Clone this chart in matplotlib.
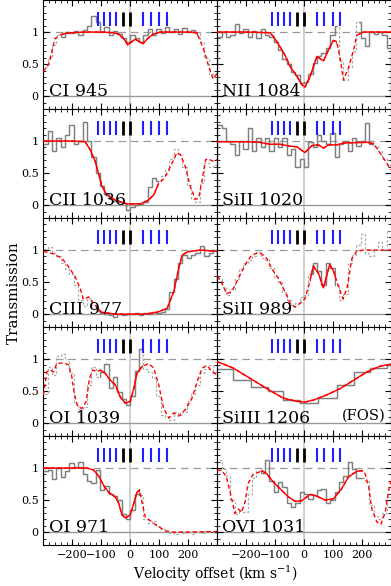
import numpy as np
import matplotlib.pyplot as plt
from matplotlib.patches import Rectangle
from matplotlib.ticker import MultipleLocator, FormatStrFormatter

plt.rcParams['font.family'] = 'serif'
plt.rcParams['font.serif'] = ['DejaVu Serif']
plt.rcParams['mathtext.fontset'] = 'dejavuserif'

# ///////////////////////////////////////////////////////////////// data

BIN_EDGES = np.arange(-300, 301, 15)  # 15 km/s bins for the FUSE spectra

# component positions (km/s)
BLUE_COMPONENTS = [-112, -91, -70, -50, 45, 70, 100, 125]
BLACK_COMPONENTS = [-25, 0]

X_TICKS = [-200, -100, 0, 100, 200]
Y_TICKS = [0, 0.5, 1]

# CI 945
ci945_model_v = [-300, -280, -260, -240, -220, -200, -150, -100, -60, -40, -20, -9, 0, 17, 30, 44, 60, 80, 104, 150, 200, 230, 254, 271, 286, 300]
ci945_model_t = [0.38, 0.52, 0.90, 0.96, 0.98, 0.99, 1.0, 1.0, 0.99, 0.97, 0.88, 0.80, 0.83, 0.89, 0.85, 0.82, 0.90, 0.97, 1.0, 1.0, 1.0, 0.99, 0.72, 0.46, 0.27, 0.36]
ci945_data = [0.45, 0.60, 0.80, 0.95, 0.93, 1.00, 0.98, 1.02, 0.96, 1.03,
              1.10, 1.25, 1.15, 1.00, 1.08, 0.95, 1.02, 0.97, 0.90, 0.85,
              0.95, 0.90, 0.85, 0.95, 1.05, 0.95, 1.05, 0.98, 1.08, 1.00,
              1.05, 0.97, 1.07, 1.00, 1.03, 0.98, 0.85, 0.60, 0.35, 0.30]
ci945_windows = [(-240, 235)]

# NII 1084
nii1084_model_v = [-300, -200, -118, -106, -83, -66, -48, -25, -8, 3, 21, 44, 67, 84, 101, 113, 125, 136, 153, 171, 182, 205, 300]
nii1084_model_t = [1.0, 1.0, 0.99, 0.93, 0.77, 0.64, 0.46, 0.31, 0.18, 0.14, 0.31, 0.62, 0.55, 0.72, 0.87, 0.85, 0.57, 0.25, 0.44, 0.72, 0.95, 1.0, 1.0]
nii1084_data = [0.92, 1.00, 0.92, 0.95, 1.12, 0.98, 1.05, 0.93, 1.02, 0.90,
                1.05, 0.95, 0.92, 0.85, 0.72, 0.58, 0.50, 0.38, 0.33, 0.20,
                0.22, 0.35, 0.52, 0.62, 0.68, 0.75, 0.95, 1.10, 0.55, 0.25,
                0.45, 0.70, 1.15, 0.90, 0.78, 1.00, 0.97, 1.00, 0.95, 0.75]
nii1084_windows = [(-300, 115), (190, 300)]

# CII 1036
cii1036_model_v = [-300, -200, -156, -138, -121, -110, -98, -81, -52, -12, 35, 63, 81, 98, 115, 127, 150, 161, 173, 190, 207, 225, 236, 248, 260, 271, 288, 300]
cii1036_model_t = [1.0, 1.0, 0.99, 0.86, 0.68, 0.50, 0.30, 0.16, 0.08, 0.02, 0.02, 0.08, 0.16, 0.34, 0.41, 0.50, 0.71, 0.82, 0.79, 0.60, 0.29, 0.09, 0.11, 0.39, 0.71, 0.72, 0.68, 0.71]
cii1036_data = [0.95, 1.15, 0.85, 1.05, 0.90, 1.10, 1.25, 0.95, 1.00, 1.30,
                1.00, 0.75, 0.50, 0.30, 0.18, 0.10, 0.07, 0.05, 0.03, -0.08,
                -0.03, 0.01, 0.02, 0.05, 0.28, 0.42, 0.38, 0.45, 0.55, 0.72,
                0.88, 0.78, 0.60, 0.32, 0.10, 0.05, 0.35, 0.65, 0.60, 0.62]
cii1036_windows = [(-300, 100)]

# SiII 1020
siii1020_model_v = [-300, -200, -152, -118, -83, -48, -25, 3, 27, 50, 67, 84, 113, 136, 217, 240, 263, 286, 300]
siii1020_model_t = [0.99, 0.99, 0.98, 0.95, 0.95, 0.92, 0.91, 0.82, 0.93, 0.94, 0.89, 0.94, 0.94, 0.97, 0.98, 0.96, 0.81, 0.65, 0.55]
siii1020_data = [1.25, 1.20, 1.00, 0.95, 0.78, 1.00, 0.88, 1.20, 0.85, 1.05,
                 0.90, 1.05, 0.85, 1.05, 0.90, 1.05, 0.78, 0.88, 0.60, 0.72,
                 0.60, 0.98, 0.90, 1.10, 1.00, 0.95, 1.12, 0.75, 0.95, 1.00,
                 0.85, 1.05, 0.92, 1.00, 1.28, 0.95, 0.93, 0.85, 0.72, 0.62]
siii1020_windows = [(-300, 240)]

# CIII 977
ciii977_model_v = [-300, -265, -236, -213, -190, -173, -162, -144, -127, -100, -50, 0, 50, 92, 127, 150, 167, 179, 196, 242, 300]
ciii977_model_t = [0.98, 0.94, 0.87, 0.74, 0.58, 0.40, 0.23, 0.27, 0.17, 0.03, 0.0, 0.0, 0.0, 0.03, 0.09, 0.35, 0.71, 0.92, 0.97, 1.0, 0.98]
ciii977_data = [1.02, 1.05, 0.95, 0.90, 0.80, 0.70, 0.62, 0.45, 0.22, 0.12,
                0.25, 0.15, 0.05, 0.02, 0.00, -0.02, -0.04, 0.01, -0.02, 0.01,
                0.00, 0.02, -0.01, 0.02, 0.01, 0.03, 0.02, 0.04, 0.08, 0.35,
                0.55, 0.80, 0.93, 0.87, 0.92, 0.95, 1.07, 0.90, 0.95, 1.00]
ciii977_windows = [(-110, 300)]

# SiII 989
siii989_model_v = [-300, -285, -268, -250, -233, -216, -198, -181, -164, -146, -129, -112, -89, -66, -48, -31, -14, 3, 18, 32, 50, 67, 88, 101, 119, 134, 148, 165, 182, 205, 300]
siii989_model_t = [0.60, 0.50, 0.32, 0.35, 0.50, 0.66, 0.81, 0.92, 0.95, 0.94, 0.87, 0.71, 0.56, 0.35, 0.17, 0.11, 0.17, 0.24, 0.48, 0.75, 0.63, 0.41, 0.77, 0.68, 0.43, 0.24, 0.40, 0.87, 0.98, 1.0, 1.0]
siii989_data = [0.55, 0.42, 0.30, 0.40, 0.55, 0.70, 0.80, 0.85, 0.90, 0.97,
                0.88, 0.85, 0.72, 0.58, 0.50, 0.35, 0.22, 0.12, 0.18, 0.26,
                0.30, 0.62, 0.80, 0.68, 0.45, 0.80, 0.72, 0.45, 0.22, 0.32,
                0.80, 0.92, 1.08, 1.25, 0.95, 0.90, 1.00, 1.12, 1.00, 1.30]
siii989_windows = [(20, 110)]

# OI 1039
oi1039_model_v = [-300, -288, -277, -265, -254, -231, -213, -202, -194, -182, -167, -152, -141, -129, -115, -104, -87, -69, -52, -35, -17, 0, 12, 23, 40, 63, 81, 98, 115, 133, 150, 167, 190, 213, 231, 248, 265, 283, 300]
oi1039_model_t = [0.44, 0.80, 0.83, 0.80, 0.93, 0.94, 0.91, 0.73, 0.47, 0.26, 0.23, 0.34, 0.70, 0.83, 0.80, 0.83, 0.78, 0.67, 0.60, 0.41, 0.31, 0.34, 0.54, 0.78, 0.88, 0.93, 0.86, 0.60, 0.23, 0.08, 0.16, 0.11, 0.21, 0.39, 0.65, 0.86, 0.90, 0.80, 0.75]
oi1039_data = [0.45, 0.88, 0.75, 1.05, 1.08, 1.00, 0.78, 0.32, 0.22, 0.25,
               0.60, 0.88, 0.72, 0.80, 0.92, 0.55, 0.72, 0.48, 0.38, 0.28,
               0.42, 0.82, 1.15, 0.85, 0.80, 0.70, 0.42, 0.12, 0.10, 0.05,
               0.18, 0.12, 0.18, 0.35, 0.45, 0.60, 0.78, 0.85, 0.90, 0.80]
oi1039_windows = [(-105, 45)]

# SiIII 1206 (FOS, coarse bins)
siiii1206_model_v = [-300, -245, -187, -129, -72, -25, 3, 32, 78, 125, 171, 217, 263, 300]
siiii1206_model_t = [0.96, 0.86, 0.70, 0.54, 0.39, 0.34, 0.33, 0.36, 0.44, 0.54, 0.67, 0.80, 0.89, 0.92]
siiii1206_edges = [-300, -245, -182, -124, -72, -14, 49, 113, 171, 228, 286, 300]
siiii1206_data = [0.84, 0.68, 0.56, 0.50, 0.36, 0.31, 0.39, 0.60, 0.80, 0.86, 0.91]
siiii1206_windows = [(-300, 300)]

# OI 971
oi971_model_v = [-300, -200, -150, -127, -110, -92, -75, -52, -40, -29, -17, 0, 12, 23, 32, 40, 52, 69, 92, 121, 150, 300]
oi971_model_t = [1.0, 1.0, 1.0, 0.97, 0.88, 0.73, 0.62, 0.55, 0.45, 0.27, 0.22, 0.27, 0.45, 0.62, 0.66, 0.47, 0.23, 0.18, 0.10, 0.02, 0.0, 0.01]
oi971_data = [0.95, 0.97, 0.83, 1.00, 0.86, 0.95, 1.08, 1.02, 1.10, 0.90,
              0.80, 0.76, 0.97, 0.66, 0.72, 0.60, 0.56, 0.50, 0.28, 0.20,
              0.35, 0.60, 0.58, 0.20, 0.15, 0.18, 0.10, 0.05, 0.02, -0.01,
              -0.03, 0.00, -0.02, 0.01, -0.03, 0.00, -0.01, 0.02, 0.00, 0.01]
oi971_windows = [(-300, 35)]

# OVI 1031
ovi1031_model_v = [-300, -285, -268, -250, -239, -227, -216, -204, -193, -175, -158, -146, -129, -106, -77, -54, -31, -8, 21, 44, 73, 101, 130, 153, 182, 200, 211, 223, 234, 251, 265, 280, 292, 300]
ovi1031_model_t = [0.96, 0.97, 0.86, 0.52, 0.29, 0.36, 0.31, 0.47, 0.76, 0.91, 0.93, 0.96, 0.91, 0.78, 0.65, 0.55, 0.48, 0.49, 0.59, 0.56, 0.50, 0.52, 0.68, 0.86, 0.95, 0.96, 0.91, 0.70, 0.36, 0.16, 0.12, 0.31, 0.65, 0.80]
ovi1031_data = [1.12, 0.98, 0.88, 0.50, 0.28, 0.35, 0.32, 0.60, 0.85, 0.95,
                0.93, 1.12, 0.80, 0.62, 0.78, 0.70, 0.46, 0.40, 0.45, 0.62,
                0.60, 0.52, 0.58, 0.66, 0.68, 0.46, 0.50, 0.62, 0.78, 0.88,
                1.10, 0.98, 0.85, 0.84, 0.80, 0.42, 0.25, 0.20, 0.30, 0.55]
ovi1031_windows = [(-150, 205)]

# panel order: rows top to bottom, left then right
PANELS = [
    ('CI 945', ci945_model_v, ci945_model_t, BIN_EDGES, ci945_data, ci945_windows),
    ('NII 1084', nii1084_model_v, nii1084_model_t, BIN_EDGES, nii1084_data, nii1084_windows),
    ('CII 1036', cii1036_model_v, cii1036_model_t, BIN_EDGES, cii1036_data, cii1036_windows),
    ('SiII 1020', siii1020_model_v, siii1020_model_t, BIN_EDGES, siii1020_data, siii1020_windows),
    ('CIII 977', ciii977_model_v, ciii977_model_t, BIN_EDGES, ciii977_data, ciii977_windows),
    ('SiII 989', siii989_model_v, siii989_model_t, BIN_EDGES, siii989_data, siii989_windows),
    ('OI 1039', oi1039_model_v, oi1039_model_t, BIN_EDGES, oi1039_data, oi1039_windows),
    ('SiIII 1206', siiii1206_model_v, siiii1206_model_t, siiii1206_edges, siiii1206_data, siiii1206_windows),
    ('OI 971', oi971_model_v, oi971_model_t, BIN_EDGES, oi971_data, oi971_windows),
    ('OVI 1031', ovi1031_model_v, ovi1031_model_t, BIN_EDGES, ovi1031_data, ovi1031_windows),
]

# ///////////////////////////////////////////////////////////////// figure

fig, axes = plt.subplots(5, 2, figsize=(3.91, 5.86), dpi=100, sharex=True, sharey=True)
fig.subplots_adjust(left=0.111, right=1.0, top=1.0, bottom=0.07, hspace=0, wspace=0)

for ax, (label, mv, mt, edges, data, windows) in zip(axes.flat, PANELS):
    # reference lines
    ax.axvline(0, color='#c8c8c8', lw=1.2, zorder=1)
    ax.axhline(1, color='#999999', lw=0.9, ls=(0, (6, 4)), zorder=1)
    ax.axhline(0, color='#999999', lw=1.0, zorder=1)

    # dashed everywhere, solid only inside the fitted windows
    ax.stairs(data, edges, color='#aaaaaa', lw=0.9, ls=(0, (2, 1.5)), zorder=2)
    ax.plot(mv, mt, color='red', lw=1.0, ls=(0, (3, 2)), zorder=3)
    for v0, v1 in windows:
        clip = Rectangle((v0, -1), v1 - v0, 3, transform=ax.transData)
        st = ax.stairs(data, edges, color='#7f7f7f', lw=1.0, zorder=2.5)
        st.set_clip_path(clip)
        ln, = ax.plot(mv, mt, color='red', lw=1.0, zorder=3.5)
        ln.set_clip_path(clip)

    # velocity components
    ax.vlines(BLUE_COMPONENTS, 1.10, 1.31, color='#1f1fff', lw=1.5, zorder=4)
    ax.vlines(BLACK_COMPONENTS, 1.10, 1.31, color='black', lw=2.0, zorder=4)

    ax.text(0.03, 0.118, label, transform=ax.transAxes, fontsize=12.5,
            va='baseline', ha='left', zorder=5)
    if label == 'SiIII 1206':
        ax.text(0.97, 0.15, '(FOS)', transform=ax.transAxes, fontsize=10.5,
                va='baseline', ha='right', zorder=5)

    ax.set_xticks(X_TICKS)
    ax.set_yticks(Y_TICKS)
    ax.xaxis.set_minor_locator(MultipleLocator(20))
    ax.yaxis.set_minor_locator(MultipleLocator(0.1))
    ax.yaxis.set_major_formatter(FormatStrFormatter('%g'))
    ax.tick_params(which='both', direction='in', top=True, right=True, labelsize=8)
    ax.tick_params(which='major', length=4, width=0.8)
    ax.tick_params(which='minor', length=2, width=0.6)
    for sp in ax.spines.values():
        sp.set_linewidth(0.8)
    ax.set_xlim(-300, 300)
    ax.set_ylim(-0.2, 1.5)

fig.text(0.035, 0.5, 'Transmission', rotation=90, va='center', ha='center', fontsize=11)
fig.text(0.55, 0.021, 'Velocity offset (km s$^{-1}$)', va='center', ha='center', fontsize=10)

fig.savefig('out.png', dpi=100)
